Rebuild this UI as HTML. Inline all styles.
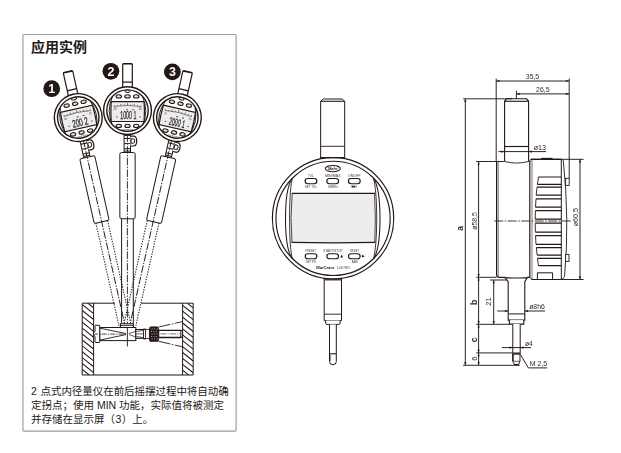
<!DOCTYPE html>
<html lang="zh-CN">
<head>
<meta charset="utf-8">
<title>应用实例</title>
<style>
html,body{margin:0;padding:0;background:#fff;}
body{width:621px;height:453px;overflow:hidden;position:relative;font-family:"Liberation Sans","Noto Sans CJK SC",sans-serif;color:#231815;}
.title{position:absolute;left:31px;top:38.2px;font-size:14px;line-height:20px;font-weight:bold;white-space:nowrap;margin:0;transform:scale(1,.935);transform-origin:0 0;}
.cap{position:absolute;left:31px;top:383.7px;width:204px;font-size:10.5px;line-height:14.25px;margin:0;white-space:nowrap;color:#231815;}
.l1{word-spacing:.8px;letter-spacing:-.045px;}
.n3{margin:0 .45px;}
svg{position:absolute;left:0;top:0;will-change:transform;}
svg text{font-family:"Liberation Sans","Noto Sans CJK SC",sans-serif;}
</style>
</head>
<body>
<h2 class="title">应用实例</h2>
<p class="cap"><span class="l1">2 点式内径量仪在前后摇摆过程中将自动确</span><br>定拐点；使用 MIN 功能，实际值将被测定<br>并存储在显示屏（<span class="n3">3</span>）上。</p>
<svg width="621" height="453" viewBox="0 0 621 453" fill="none" stroke="#231815" stroke-linecap="butt" stroke-linejoin="miter">
<rect x="22.95" y="34.45" width="213.15" height="396.65" rx="1" stroke="#9c9c9c" stroke-width="1.15"/>
<g id="example">
<g stroke-width="1">
<path d="M114.9 303.2H82.2V375H193.2V303.2H141.2" fill="none"/>
<path d="M93.6 303.2V375M182.6 303.2V375"/>
</g>
<defs><clipPath id="hl"><rect x="82.2" y="303.2" width="11.4" height="71.8"/></clipPath><clipPath id="hr"><rect x="182.6" y="303.2" width="10.6" height="71.8"/></clipPath></defs>
<path d="M82.2 286.8L93.6 295.92M82.2 292.7L93.6 301.82M82.2 298.6L93.6 307.72M82.2 304.5L93.6 313.62M82.2 310.4L93.6 319.52M82.2 316.3L93.6 325.42M82.2 322.2L93.6 331.32M82.2 328.1L93.6 337.22M82.2 334L93.6 343.12M82.2 339.9L93.6 349.02M82.2 345.8L93.6 354.92M82.2 351.7L93.6 360.82M82.2 357.6L93.6 366.72M82.2 363.5L93.6 372.62M82.2 369.4L93.6 378.52M82.2 375.3L93.6 384.42M82.2 381.2L93.6 390.32M82.2 387.1L93.6 396.22" stroke-width="1.05" clip-path="url(#hl)"/>
<path d="M182.6 287.6L193.2 296.08M182.6 293.5L193.2 301.98M182.6 299.4L193.2 307.88M182.6 305.3L193.2 313.78M182.6 311.2L193.2 319.68M182.6 317.1L193.2 325.58M182.6 323L193.2 331.48M182.6 328.9L193.2 337.38M182.6 334.8L193.2 343.28M182.6 340.7L193.2 349.18M182.6 346.6L193.2 355.08M182.6 352.5L193.2 360.98M182.6 358.4L193.2 366.88M182.6 364.3L193.2 372.78M182.6 370.2L193.2 378.68M182.6 376.1L193.2 384.58M182.6 382L193.2 390.48M182.6 387.9L193.2 396.38" stroke-width="1.05" clip-path="url(#hr)"/>
<g transform="translate(78.25 117.56) rotate(-12.68)">
<path d="M-4.8 -22.4V-46.4l.6 -.7h8.4l.6 .7V-22.4" fill="#fff" stroke-width="1.2"/>
<path d="M-4.5 -46.8H4.5" stroke-width="1.5"/>
<path d="M-4.8 -28.5H4.8" stroke-width="1.25"/>
</g>
<g transform="translate(78.25 117.56) rotate(-12.68) translate(0 -1.25)">
<path d="M-3.4 23.6V42M3 23.6V42" stroke-width="1"/>
<path d="M-3.4 24.8H3M-3.4 27.9H3M-3.4 33H3M-3.4 38.1H3M-3.4 40.5H3" stroke-width="1"/>
<path d="M3 25.6H6q3.2 0 3.2 4.9t-3.2 4.9H3" fill="#fff" stroke-width="1.2"/>
<path d="M3.6 28.2H5.6q1.6 0 1.6 2.2t-1.6 2.2H3.6z" stroke-width="1"/>
<rect x="-7.65" y="41.9" width="15.3" height="66.3" rx="1.7" fill="#fff" stroke-width="1"/>
</g>
<g transform="translate(78.25 117.56) rotate(-12.68)">
<circle r="23.9" fill="#fff" stroke-width="1.4"/>
<circle r="20.7" stroke-width="1.4"/>
<path d="M-15.2 -13.4Q-21.4 0 -15.2 14.4M15.2 -13.4Q21.4 0 15.2 14.4" stroke-width=".9"/>
<path d="M-16.3 -9H16.6Q17.3 0 16.6 10.9H-16.3Q-17 0 -16.3 -9Z" fill="#ececec" stroke-width="1.2"/>
<path d="M-13.4 -4.2Q0 -6.4 13.4 -4" stroke-width=".5"/>
<path d="M-13.4 -5.6V-4.2M-6.7 -6.6V-5M0 -7.4V-5.3M6.7 -6.6V-5M13.4 -5.4V-4M-3.3 -6.2V-5.2M3.3 -6.2V-5.2M-10 -5.6V-4.6M10 -5.6V-4.5" stroke-width=".55"/>
<path d="M-11.6 6.4h1.6M11.6 6.4h1.6M-1.4 -.8h2M4.6 -.8h2" stroke-width=".7"/>
<text x="0.8" y="8.8" font-size="10.8" text-anchor="middle" textLength="16" lengthAdjust="spacingAndGlyphs" fill="#231815" stroke="#231815" stroke-width=".25">200 2</text>
<text x="-12.6" y="-.6" font-size="2.6" text-anchor="middle" fill="#231815" stroke="none">20</text>
<text x="12.8" y="-.6" font-size="2.6" text-anchor="middle" fill="#231815" stroke="none">20</text>
<ellipse cx="-8.7" cy="-14.2" rx="2.7" ry="1.65" fill="#e4e4e4" stroke-width="1.1"/>
<ellipse cx="-8.7" cy="15.3" rx="2.7" ry="1.65" fill="#e4e4e4" stroke-width="1.1"/>
<ellipse cx="0" cy="-14.2" rx="2.7" ry="1.65" fill="#e4e4e4" stroke-width="1.1"/>
<ellipse cx="0" cy="15.3" rx="2.7" ry="1.65" fill="#e4e4e4" stroke-width="1.1"/>
<ellipse cx="8.7" cy="-14.2" rx="2.7" ry="1.65" fill="#e4e4e4" stroke-width="1.1"/>
<ellipse cx="8.7" cy="15.3" rx="2.7" ry="1.65" fill="#e4e4e4" stroke-width="1.1"/>
<ellipse cx="0" cy="-19.3" rx="2.5" ry="1.25" fill="#e4e4e4" stroke-width="1"/>
<path d="M-5 18.9H5.6" stroke-width=".7" stroke-dasharray="1.4 .5" stroke="#555"/>
</g>
<g transform="translate(177.35 117.56) rotate(12.68)">
<path d="M-4.8 -22.4V-46.4l.6 -.7h8.4l.6 .7V-22.4" fill="#fff" stroke-width="1.2"/>
<path d="M-4.5 -46.8H4.5" stroke-width="1.5"/>
<path d="M-4.8 -28.5H4.8" stroke-width="1.25"/>
</g>
<g transform="translate(177.35 117.56) rotate(12.68) translate(0 -1.25)">
<path d="M-3.4 23.6V42M3 23.6V42" stroke-width="1"/>
<path d="M-3.4 24.8H3M-3.4 27.9H3M-3.4 33H3M-3.4 38.1H3M-3.4 40.5H3" stroke-width="1"/>
<path d="M3 25.6H6q3.2 0 3.2 4.9t-3.2 4.9H3" fill="#fff" stroke-width="1.2"/>
<path d="M3.6 28.2H5.6q1.6 0 1.6 2.2t-1.6 2.2H3.6z" stroke-width="1"/>
<rect x="-7.65" y="41.9" width="15.3" height="66.3" rx="1.7" fill="#fff" stroke-width="1"/>
</g>
<g transform="translate(177.35 117.56) rotate(12.68)">
<circle r="23.9" fill="#fff" stroke-width="1.4"/>
<circle r="20.7" stroke-width="1.4"/>
<path d="M-15.2 -13.4Q-21.4 0 -15.2 14.4M15.2 -13.4Q21.4 0 15.2 14.4" stroke-width=".9"/>
<path d="M-16.3 -9H16.6Q17.3 0 16.6 10.9H-16.3Q-17 0 -16.3 -9Z" fill="#ececec" stroke-width="1.2"/>
<path d="M-13.4 -4.2Q0 -6.4 13.4 -4" stroke-width=".5"/>
<path d="M-13.4 -5.6V-4.2M-6.7 -6.6V-5M0 -7.4V-5.3M6.7 -6.6V-5M13.4 -5.4V-4M-3.3 -6.2V-5.2M3.3 -6.2V-5.2M-10 -5.6V-4.6M10 -5.6V-4.5" stroke-width=".55"/>
<path d="M-11.6 6.4h1.6M11.6 6.4h1.6M-1.4 -.8h2M4.6 -.8h2" stroke-width=".7"/>
<text x="0.8" y="8.8" font-size="10.8" text-anchor="middle" textLength="16" lengthAdjust="spacingAndGlyphs" fill="#231815" stroke="#231815" stroke-width=".25">2000 1</text>
<text x="-12.6" y="-.6" font-size="2.6" text-anchor="middle" fill="#231815" stroke="none">20</text>
<text x="12.8" y="-.6" font-size="2.6" text-anchor="middle" fill="#231815" stroke="none">20</text>
<ellipse cx="-8.7" cy="-14.2" rx="2.7" ry="1.65" fill="#e4e4e4" stroke-width="1.1"/>
<ellipse cx="-8.7" cy="15.3" rx="2.7" ry="1.65" fill="#e4e4e4" stroke-width="1.1"/>
<ellipse cx="0" cy="-14.2" rx="2.7" ry="1.65" fill="#e4e4e4" stroke-width="1.1"/>
<ellipse cx="0" cy="15.3" rx="2.7" ry="1.65" fill="#e4e4e4" stroke-width="1.1"/>
<ellipse cx="8.7" cy="-14.2" rx="2.7" ry="1.65" fill="#e4e4e4" stroke-width="1.1"/>
<ellipse cx="8.7" cy="15.3" rx="2.7" ry="1.65" fill="#e4e4e4" stroke-width="1.1"/>
<ellipse cx="0" cy="-19.3" rx="2.5" ry="1.25" fill="#e4e4e4" stroke-width="1"/>
<path d="M-5 18.9H5.6" stroke-width=".7" stroke-dasharray="1.4 .5" stroke="#555"/>
</g>
<g transform="translate(127.5 110.6) rotate(0)">
<path d="M-4.8 -22.4V-46.4l.6 -.7h8.4l.6 .7V-22.4" fill="#fff" stroke-width="1.2"/>
<path d="M-4.5 -46.8H4.5" stroke-width="1.5"/>
<path d="M-4.8 -28.5H4.8" stroke-width="1.25"/>
</g>
<g transform="translate(127.5 110.6) rotate(0) translate(0 0)">
<path d="M-3.4 23.6V42M3 23.6V42" stroke-width="1"/>
<path d="M-3.4 24.8H3M-3.4 27.9H3M-3.4 33H3M-3.4 38.1H3M-3.4 40.5H3" stroke-width="1"/>
<path d="M3 25.6H6q3.2 0 3.2 4.9t-3.2 4.9H3" fill="#fff" stroke-width="1.2"/>
<path d="M3.6 28.2H5.6q1.6 0 1.6 2.2t-1.6 2.2H3.6z" stroke-width="1"/>
<rect x="-7.65" y="41.9" width="15.3" height="66.3" rx="1.7" fill="#fff" stroke-width="1"/>
</g>
<g transform="translate(127.5 110.6) rotate(0)">
<circle r="23.9" fill="#fff" stroke-width="1.4"/>
<circle r="20.7" stroke-width="1.4"/>
<path d="M-15.2 -13.4Q-21.4 0 -15.2 14.4M15.2 -13.4Q21.4 0 15.2 14.4" stroke-width=".9"/>
<path d="M-16.3 -9H16.6Q17.3 0 16.6 10.9H-16.3Q-17 0 -16.3 -9Z" fill="#ececec" stroke-width="1.2"/>
<path d="M-13.4 -4.2Q0 -6.4 13.4 -4" stroke-width=".5"/>
<path d="M-13.4 -5.6V-4.2M-6.7 -6.6V-5M0 -7.4V-5.3M6.7 -6.6V-5M13.4 -5.4V-4M-3.3 -6.2V-5.2M3.3 -6.2V-5.2M-10 -5.6V-4.6M10 -5.6V-4.5" stroke-width=".55"/>
<path d="M-11.6 6.4h1.6M11.6 6.4h1.6M-1.4 -.8h2M4.6 -.8h2" stroke-width=".7"/>
<text x="0.8" y="8.8" font-size="10.8" text-anchor="middle" textLength="16" lengthAdjust="spacingAndGlyphs" fill="#231815" stroke="#231815" stroke-width=".25">1000 1</text>
<text x="-12.6" y="-.6" font-size="2.6" text-anchor="middle" fill="#231815" stroke="none">20</text>
<text x="12.8" y="-.6" font-size="2.6" text-anchor="middle" fill="#231815" stroke="none">20</text>
<ellipse cx="-8.7" cy="-14.2" rx="2.7" ry="1.65" fill="#e4e4e4" stroke-width="1.1"/>
<ellipse cx="-8.7" cy="15.3" rx="2.7" ry="1.65" fill="#e4e4e4" stroke-width="1.1"/>
<ellipse cx="0" cy="-14.2" rx="2.7" ry="1.65" fill="#e4e4e4" stroke-width="1.1"/>
<ellipse cx="0" cy="15.3" rx="2.7" ry="1.65" fill="#e4e4e4" stroke-width="1.1"/>
<ellipse cx="8.7" cy="-14.2" rx="2.7" ry="1.65" fill="#e4e4e4" stroke-width="1.1"/>
<ellipse cx="8.7" cy="15.3" rx="2.7" ry="1.65" fill="#e4e4e4" stroke-width="1.1"/>
<ellipse cx="0" cy="-19.3" rx="2.5" ry="1.25" fill="#e4e4e4" stroke-width="1"/>
<path d="M-5 18.9H5.6" stroke-width=".7" stroke-dasharray="1.4 .5" stroke="#555"/>
</g>
<g transform="translate(127.4 336) rotate(12.68)">
<path d="M-6 -117V-12M6 -117V-12" stroke-width="1.05" stroke-dasharray="1.3 1.3"/>
<path d="M0 -201V-9" stroke-width=".9" stroke-dasharray="7.5 1.4 1.4 1.4"/>
</g>
<g transform="translate(127.4 336) rotate(-12.68)">
<path d="M-6 -117V-12M6 -117V-12" stroke-width="1.05" stroke-dasharray="1.3 1.3"/>
<path d="M0 -201V-9" stroke-width=".9" stroke-dasharray="7.5 1.4 1.4 1.4"/>
</g>
<path d="M121.6 218.6V323.6M133.3 218.6V323.6" stroke-width="1"/>
<path d="M127.4 134.4V326" stroke-width=".9" stroke-dasharray="7.5 1.4 1.4 1.4"/>
<g stroke-width="1">
<path d="M120.4 327.5V323.7H133.4V327.5" fill="#fff" stroke-width="1.1"/>
<path d="M120.4 325.4H133.4" stroke-width=".9"/>
<rect x="99.7" y="327.5" width="36.1" height="13.1" fill="#fff"/>
<path d="M95.6 325.3h3.5q.6 0 .6 .6v16q0 .6 -.6 .6h-3.5q-.6 0 -.6 -.6v-5.6l-1.5 -1.2v-2.4l1.5 -1.2v-5.6q0 -.6 .6 -.6z" fill="#fff"/>
<path d="M100 328.2L126 333.6M100 340L126 334.6" stroke-width=".9"/>
<path d="M127.4 327V346.4" stroke-width=".9"/>
<path d="M129 333.6L135.6 331.4M129 334.6L135.6 336.8" stroke-width=".7"/>
<path d="M93 334.1H126" stroke-width=".8" stroke-dasharray="5 1.2 1.2 1.2"/>
<rect x="135.8" y="329.5" width="7.8" height="8.8" fill="#fff" stroke-width="1.1"/>
<path d="M136.4 331.6L143 330.4M136.4 336.4L143 337.6M136.4 333.9H143.6" stroke-width=".7"/>
<rect x="143.6" y="329" width="1.9" height="10" fill="#fff" stroke-width=".8"/>
<rect x="145.5" y="329.6" width="4.2" height="8.9" fill="#fff" stroke-width=".8"/>
<rect x="149.4" y="326.8" width="9.2" height="14.8" rx="1.6" fill="#231815" stroke-width=".6"/>
<path d="M151.6 328.9h6M150.9 331.4h7M151.6 333.9h6M150.9 336.4h7M151.6 338.9h6" stroke="#bbb" stroke-width="1" stroke-dasharray="1 1.5"/>
<path d="M158.6 330.3h22q1.8 0 1.8 1.8v3.6q0 1.8 -1.8 1.8h-22z" fill="#fff" stroke-width="1.3"/>
<path d="M180.4 330.6v6.6" stroke-width=".7"/>
<path d="M160.4 333.9h22.6" stroke-width=".8" stroke-dasharray="6 1.2 1.2 1.2" stroke="#555"/>
<path d="M158.8 327L182.8 321.5M158.8 341.3L182.8 346.9" stroke-width=".9" stroke-dasharray="12 1.5 1.5 1.5"/>
</g>
<circle cx="51.7" cy="88.7" r="8.4" fill="#231815" stroke="none"/>
<text x="51.7" y="93.2" font-size="12.5" font-weight="bold" text-anchor="middle" fill="#fff" stroke="none">1</text>
<circle cx="110.9" cy="71.3" r="8.4" fill="#231815" stroke="none"/>
<text x="110.9" y="75.8" font-size="12.5" font-weight="bold" text-anchor="middle" fill="#fff" stroke="none">2</text>
<circle cx="172.4" cy="71.9" r="8.4" fill="#231815" stroke="none"/>
<text x="172.4" y="76.4" font-size="12.5" font-weight="bold" text-anchor="middle" fill="#fff" stroke="none">3</text>
</g>
<g id="front">
<path d="M320.65 158.4V101.3l2.5 -2.3h19.05l2.5 2.3V158.4" fill="#fff" stroke-width="1"/>
<path d="M320.65 101.3H344.7" stroke-width="1.1"/>
<path d="M320.65 146.3H344.7" stroke-width=".9"/>
<path d="M324.2 277V320.6H341.5V277" fill="#fff" stroke-width="1"/>
<path d="M324.2 314.2H341.5" stroke-width=".9"/>
<path d="M324.2 279.8H341.5" stroke-width="1.2"/>
<path d="M325.7 320.6v2.6q0 1.2 1.2 1.2h12q1.2 0 1.2 -1.2v-2.6" fill="#fff" stroke-width="1"/>
<path d="M329.5 324.4V361.4q0 3.4 3.4 3.4t3.4 -3.4V324.4" fill="#fff" stroke-width="1"/>
<path d="M329.5 353.8H336.3" stroke-width="1.1"/>
<path d="M330.6 355V361" stroke-width=".5"/>
<circle cx="333.05" cy="218.2" r="60.65" fill="#fff" stroke-width="1.2"/>
<path d="M320.5 157.6H344.5" stroke-width="1.1"/>
<circle cx="333.05" cy="218.4" r="57.1" stroke-width="1.15"/>
<path d="M292.5 178C288 184 285.5 196 285.5 218.4S288 253 292.5 259M373.4 178C377.4 184 380 196 380 218.4S377.4 253 373.4 259" stroke-width="1.05"/>
<path d="M292.5 178C290.8 184 289.6 196 289.6 218.4S290.8 253 292.5 259M373.4 178C375 184 376.7 196 376.7 218.4S375 253 373.4 259" stroke-width=".9"/>
<path d="M292.2 193.4H374.6Q376 218 374.8 242.4Q333.2 243.2 292 242.4Q289.9 218 292.2 193.4Z" fill="#ededed" stroke="none"/>
<path d="M291.8 193.4H375M291.6 242.4Q333.2 243.2 375.2 242.4" stroke-width="1.15"/>
<path d="M292.2 193.4Q289.9 218 292 242.4" stroke-width=".8"/>
<path d="M374.6 193.4Q376 218 374.8 242.4" stroke-width=".8"/>
<ellipse cx="332.8" cy="168.6" rx="7.5" ry="3.15" fill="#fff" stroke-width="1.1"/>
<text x="332.8" y="170.2" font-size="4.4" font-style="italic" font-weight="bold" text-anchor="middle" fill="#231815" stroke="none" font-family="'Liberation Serif',serif" textLength="9.4" lengthAdjust="spacingAndGlyphs">Mahr</text>
<rect x="305.1" y="178.5" width="11.8" height="5.2" rx="2.6" fill="#fff" stroke-width="1.15"/>
<rect x="305.2" y="253.7" width="11.6" height="5" rx="2.5" fill="#fff" stroke-width="1.15"/>
<rect x="326.8" y="178.5" width="11.8" height="5.2" rx="2.6" fill="#fff" stroke-width="1.15"/>
<rect x="326.9" y="253.7" width="11.6" height="5" rx="2.5" fill="#fff" stroke-width="1.15"/>
<rect x="348.4" y="178.5" width="11.8" height="5.2" rx="2.6" fill="#fff" stroke-width="1.15"/>
<rect x="348.5" y="253.7" width="11.6" height="5" rx="2.5" fill="#fff" stroke-width="1.15"/>
<text x="310.8" y="176.8" font-size="3.7" font-weight="normal" text-anchor="middle" textLength="5.8" lengthAdjust="spacingAndGlyphs" fill="#3e3a39" stroke="none">TOL</text>
<text x="332.8" y="176.8" font-size="3.7" font-weight="normal" text-anchor="middle" textLength="15.6" lengthAdjust="spacingAndGlyphs" fill="#3e3a39" stroke="none">MIN/MAX</text>
<text x="354.3" y="176.8" font-size="3.7" font-weight="normal" text-anchor="middle" textLength="12.4" lengthAdjust="spacingAndGlyphs" fill="#3e3a39" stroke="none">ON/OFF</text>
<text x="310.8" y="187.9" font-size="3.7" font-weight="normal" text-anchor="middle" textLength="12" lengthAdjust="spacingAndGlyphs" fill="#3e3a39" stroke="none">SET TOL</text>
<text x="333" y="187.9" font-size="3.7" font-weight="normal" text-anchor="middle" textLength="9.6" lengthAdjust="spacingAndGlyphs" fill="#3e3a39" stroke="none">MENU</text>
<path d="M351.9 185.7l1.6 .9l-1.6 .9zM353.8 185.7l1.6 .9l-1.6 .9zM356.2 185.6v2" fill="#231815" stroke-width=".6"/>
<text x="310.6" y="251.6" font-size="3.7" font-weight="normal" text-anchor="middle" textLength="10.6" lengthAdjust="spacingAndGlyphs" fill="#3e3a39" stroke="none">PRESET</text>
<text x="333" y="251.6" font-size="3.7" font-weight="normal" text-anchor="middle" textLength="19.4" lengthAdjust="spacingAndGlyphs" fill="#3e3a39" stroke="none">START/STOP</text>
<text x="354.6" y="251.6" font-size="3.7" font-weight="normal" text-anchor="middle" textLength="9.2" lengthAdjust="spacingAndGlyphs" fill="#3e3a39" stroke="none">RESET</text>
<text x="310.8" y="263.2" font-size="3.7" font-weight="normal" text-anchor="middle" textLength="9.8" lengthAdjust="spacingAndGlyphs" fill="#3e3a39" stroke="none">SET PR</text>
<text x="354.8" y="263.2" font-size="3.7" font-weight="normal" text-anchor="middle" textLength="6.2" lengthAdjust="spacingAndGlyphs" fill="#3e3a39" stroke="none">ABS</text>
<path d="M341.7 254.6l1.4 3h-2.8zM361.9 254.8l3 1.4l-3 1.4z" fill="#231815" stroke="none"/>
<text x="316.3" y="268.9" font-size="4.1" font-weight="bold" textLength="18" lengthAdjust="spacingAndGlyphs" fill="#231815" stroke="none">MarCator</text>
<text x="336.8" y="268.9" font-size="4.1" textLength="13.2" lengthAdjust="spacingAndGlyphs" fill="#595757" stroke="none">1087BR</text>
</g>
<g id="side">
<g stroke-width="1.1">
<path d="M504.6 161.6V101.3l2 -2.5h20l2 2.5V161.6" fill="#fff"/>
<path d="M504.6 101.3H528.6" stroke-width="1.1"/>
<path d="M504.6 146.5H528.6" stroke-width="1.15"/>
<path d="M504.6 161.5Q516.6 164.6 528.6 161.5" stroke-width=".9"/>
<path d="M496.6 161.5V274.6q0 2.7 2.7 2.7H505.4M528.6 161.5h1.2V277.4H527" fill="none" stroke-width="1.2"/>
<path d="M498.2 162V276" stroke-width=".6"/>
<path d="M505.4 277.6Q516.4 280.2 527.2 277.6" stroke-width=".8"/>
<path d="M529.8 161.2q0 -2 2 -2H561.3q1.6 0 2 1.5Q569.6 220 564.6 276.2q-.3 1.6 -1.5 2.2l-1.8 1.1H531.8l-2 -2" fill="none" stroke-width=".9"/>
<path d="M531 159.3H561.6M531.4 279.5H561.6" stroke-width="1.2"/>
<path d="M532 160V279" stroke-width=".6"/>
<path d="M561.3 160V279.4" stroke-width="1"/>
<path d="M541.3 158.5H552.6" stroke-width="1.3"/>
<path d="M538.5 177H561.3M537.4 184.4H561.3" stroke-width="1.2"/>
<path d="M538.5 177L537.4 184.4" stroke-width=".9"/>
<path d="M537 187.2H561.3M536.2 195.1H561.3" stroke-width="1.2"/>
<path d="M537 187.2L536.2 195.1" stroke-width=".9"/>
<path d="M536 198.9H561.3M535.5 207.2H561.3" stroke-width="1.2"/>
<path d="M536 198.9L535.5 207.2" stroke-width=".9"/>
<path d="M535.4 210.6H561.3M535.2 219.2H561.3" stroke-width="1.2"/>
<path d="M535.4 210.6L535.2 219.2" stroke-width=".9"/>
<path d="M535.2 223.2H561.3M535.4 232.2H561.3" stroke-width="1.2"/>
<path d="M535.2 223.2L535.4 232.2" stroke-width=".9"/>
<path d="M535.5 235.6H561.3M536 244.4H561.3" stroke-width="1.2"/>
<path d="M535.5 235.6L536 244.4" stroke-width=".9"/>
<path d="M536.3 247.7H561.3M537.2 255.2H561.3" stroke-width="1.2"/>
<path d="M536.3 247.7L537.2 255.2" stroke-width=".9"/>
<path d="M537.4 258.3H561.3M538.5 265.7H561.3" stroke-width="1.2"/>
<path d="M537.4 258.3L538.5 265.7" stroke-width=".9"/>
<rect x="565.6" y="178.3" width="3.6" height="7.1" fill="#fff" stroke-width=".9"/>
<rect x="565.6" y="254.4" width="3.4" height="7" fill="#fff" stroke-width=".9"/>
<path d="M537.4 279.4V272.8H552.6V279.4" stroke-width="1"/>
<path d="M505.2 278H527.1L524.8 281.7V320.1H508.2V281.7Z" fill="#fff"/>
<path d="M508.2 313.9H524.8" stroke-width="1"/>
<path d="M509.4 320.1V324.1H523.8V320.1" fill="#fff"/>
<path d="M512.8 324V353H520.2V324" fill="#fff" stroke-width="1"/>
<path d="M512.8 353.4V361q.3 3.9 3.6 3.9t3.6 -3.9V353.4" fill="#fff" stroke-width=".9"/>
<path d="M512.4 353.9h8" stroke-width="1.5"/>
<path d="M512.9 354V361" stroke-width="1.4"/>
<path d="M512.8 361.3H520" stroke-width=".7"/>
<path d="M514.2 364.5H518.6" stroke-width="1.1"/>
</g>
<path d="M494.2 221H570.8" stroke-width=".85" stroke-dasharray="9 1.5 1.5 1.5"/>
<g stroke-width=".95">
<path d="M496.2 78.6V161.4M569.2 78.6V178.3"/>
<path d="M496.2 81H569.2M516.4 93.9H569.2M516.4 90.6V98.8"/>
<path d="M463.2 98.8H512M465.3 98.8V365.3M463.2 365.3H519.8" stroke-width=".95"/>
<path d="M476.2 161.5H504M478.6 161.5V365.3"/>
<path d="M562 159.3H583.6M580 159.3V279.5M562 279.5H583.6"/>
<path d="M476.2 277.3H496.6M476.2 324.3H509.4M476.2 352.9H512.6"/>
<path d="M490 280H507.2M493.7 280V324.3"/>
<path d="M498.4 151.6H546"/>
<path d="M497.2 311H508.2M524.8 311H545"/>
<path d="M502 347.6H531"/>
<path d="M520.3 354.4L528.4 367.9H547.2"/>
</g>
<path d="M496.2 81l3.3 -1.1v2.2zM569.2 81l-3.3 -1.1v2.2zM516.4 93.9l3.3 -1.1v2.2zM569.2 93.9l-3.3 -1.1v2.2zM465.3 98.8l-1.1 3.3h2.2zM465.3 365.3l-1.1 -3.3h2.2zM478.6 161.5l-1.1 3.3h2.2zM478.6 277.3l-1.1 -3.3h2.2zM478.6 277.3l-1.1 3.3h2.2zM478.6 324.3l-1.1 -3.3h2.2zM478.6 324.3l-1.1 3.3h2.2zM478.6 352.9l-1.1 -3.3h2.2zM478.6 352.9l-1.1 3.3h2.2zM478.6 365.3l-1.1 -3.3h2.2zM580 159.3l-1.1 3.3h2.2zM580 279.5l-1.1 -3.3h2.2zM493.7 280l-1.1 3.3h2.2zM493.7 324.3l-1.1 -3.3h2.2zM504.6 151.6l-3.3 -1.1v2.2zM528.6 151.6l3.3 -1.1v2.2zM508.2 311l-3.3 -1.1v2.2zM524.8 311l3.3 -1.1v2.2zM512.8 347.6l-3.3 -1.1v2.2zM520.2 347.6l3.3 -1.1v2.2z" fill="#231815" stroke="none"/>
<text x="532.5" y="78.6" font-size="7.6" font-weight="normal" text-anchor="middle" textLength="13.4" lengthAdjust="spacingAndGlyphs" fill="#2e2826" stroke="none">35,5</text>
<text x="542.8" y="91.6" font-size="7.6" font-weight="normal" text-anchor="middle" textLength="13.4" lengthAdjust="spacingAndGlyphs" fill="#2e2826" stroke="none">26,5</text>
<text x="533.8" y="149.7" font-size="7.6" font-weight="normal" text-anchor="start" textLength="12.2" lengthAdjust="spacingAndGlyphs" fill="#2e2826" stroke="none">ø13</text>
<text x="529.2" y="308.8" font-size="7.6" font-weight="normal" text-anchor="start" textLength="15.6" lengthAdjust="spacingAndGlyphs" fill="#2e2826" stroke="none">ø8h6</text>
<text x="525" y="345.5" font-size="7.6" font-weight="normal" text-anchor="start" textLength="7.8" lengthAdjust="spacingAndGlyphs" fill="#2e2826" stroke="none">ø4</text>
<text x="529.8" y="366.3" font-size="7.6" font-weight="normal" text-anchor="start" textLength="17.4" lengthAdjust="spacingAndGlyphs" fill="#2e2826" stroke="none">M 2,5</text>
<text x="476.7" y="221" font-size="7.9" font-weight="normal" text-anchor="middle" textLength="17.6" lengthAdjust="spacingAndGlyphs" fill="#2e2826" stroke="none" transform="rotate(-90 476.7 221)">ø58,5</text>
<text x="578" y="217.2" font-size="7.9" font-weight="normal" text-anchor="middle" textLength="18.3" lengthAdjust="spacingAndGlyphs" fill="#2e2826" stroke="none" transform="rotate(-90 578 217.2)">ø60,5</text>
<text x="491.4" y="301.6" font-size="7.6" font-weight="normal" text-anchor="middle" fill="#2e2826" stroke="none" transform="rotate(-90 491.4 301.6)">21</text>
<text x="476.6" y="358.6" font-size="7.6" font-weight="normal" text-anchor="middle" fill="#2e2826" stroke="none" transform="rotate(-90 476.6 358.6)">6</text>
<text x="463.5" y="228.3" font-size="8.5" font-weight="bold" text-anchor="middle" fill="#2e2826" stroke="none" transform="rotate(-90 463.5 228.3)">a</text>
<text x="477" y="302.2" font-size="8.8" font-weight="bold" text-anchor="middle" fill="#2e2826" stroke="none" transform="rotate(-90 477 302.2)">b</text>
<text x="477" y="339.8" font-size="8.8" font-weight="bold" text-anchor="middle" fill="#2e2826" stroke="none" transform="rotate(-90 477 339.8)">c</text>
</g>
</svg>
</body>
</html>
